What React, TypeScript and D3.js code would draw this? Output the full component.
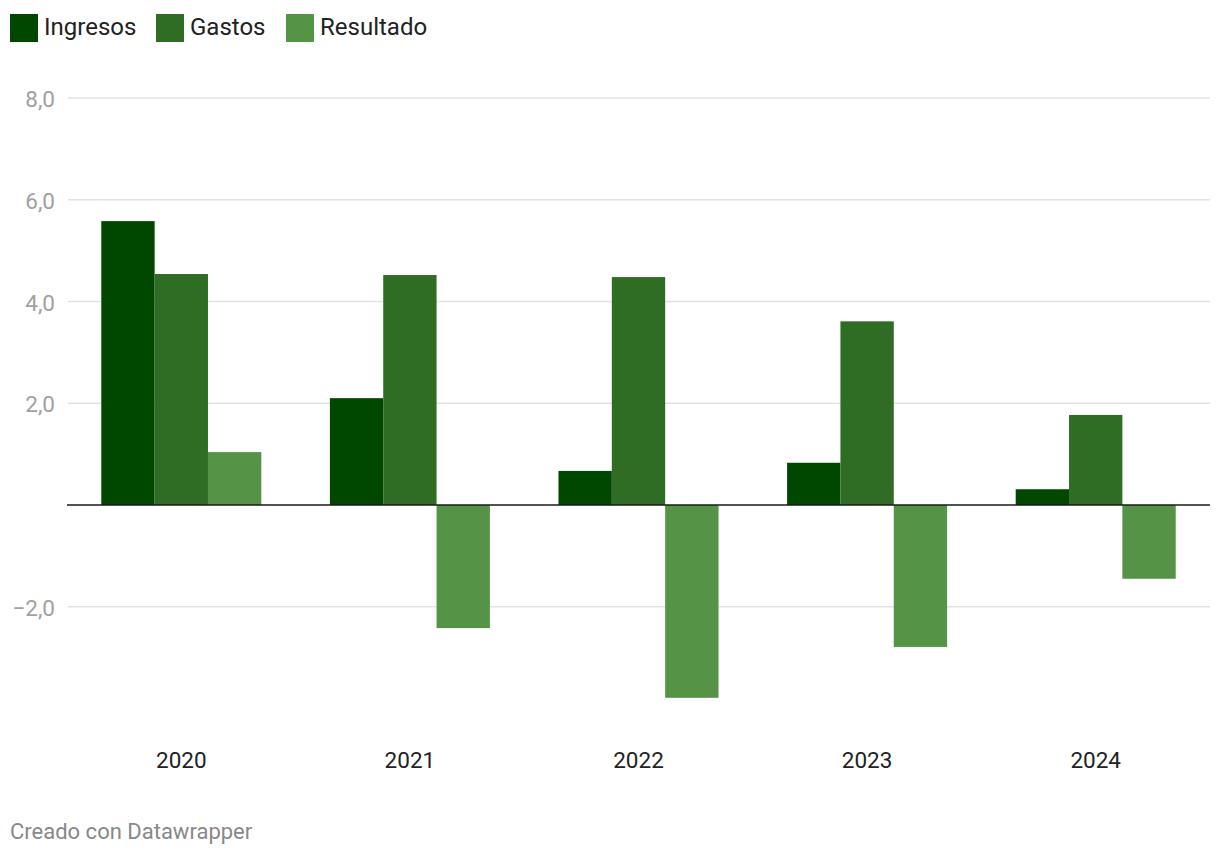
import React from "react";
import * as d3 from "d3";

const years = ["2020", "2021", "2022", "2023", "2024"];
const seriesNames = ["Ingresos", "Gastos", "Resultado"];
const ingresos = [5.58, 2.1, 0.67, 0.83, 0.31];
const gastos = [4.54, 4.52, 4.48, 3.61, 1.77];
const resultado = [1.04, -2.42, -3.79, -2.79, -1.45];
const colors = ["#004700", "#2e6d23", "#559447"];
const yTicks = [-2, 2, 4, 6, 8];

export default function App() {
  const W = 1220, H = 858;
  const left = 67, right = 1210;
  const y = d3.scaleLinear().domain([0, 8]).range([505, 98]);
  const x0 = d3.scaleBand().domain(years).range([left, right]).paddingInner(0.3).paddingOuter(0.15);
  const x1 = d3.scaleBand().domain(seriesNames).range([0, x0.bandwidth()]);
  const data = [ingresos, gastos, resultado];
  const fmt = (v: number) => (v < 0 ? "\u2212" : "") + Math.abs(v).toFixed(1).replace(".", ",");
  const legendX = [10, 156, 286];
  return (
    <svg width={W} height={H} style={{ position: "absolute", left: 0, top: 0, fontFamily: "Roboto, sans-serif" }}>
      <rect width={W} height={H} fill="#fff" />
      {seriesNames.map((s, i) => (
        <g key={s}>
          <rect x={legendX[i]} y={14} width={28} height={28} fill={colors[i]} />
          <text x={legendX[i] + 34} y={35} fontSize={24} fill="#222">{s}</text>
        </g>
      ))}
      {yTicks.map((t) => (
        <g key={t}>
          <line x1={68} x2={right} y1={y(t)} y2={y(t)} stroke="#e2e2e2" strokeWidth={1.5} />
          <text x={55} y={y(t) + 9} textAnchor="end" fontSize={22.5} fill="#a0a0a0">{fmt(t)}</text>
        </g>
      ))}
      {years.map((yr, yi) => (
        <g key={yr} transform={`translate(${x0(yr)},0)`}>
          {seriesNames.map((s, si) => {
            const v = data[si][yi];
            return (
              <rect key={s} x={x1(s)} width={x1.bandwidth()} y={Math.min(y(v), y(0))} height={Math.abs(y(v) - y(0))} fill={colors[si]} />
            );
          })}
          <text x={x0.bandwidth() / 2} y={768} textAnchor="middle" fontSize={22.5} fill="#222">{yr}</text>
        </g>
      ))}
      <line x1={left} x2={right} y1={y(0)} y2={y(0)} stroke="#1a1a1a" strokeWidth={1.5} />
      <text x={10} y={839} fontSize={22} fill="#888">Creado con Datawrapper</text>
    </svg>
  );
}
